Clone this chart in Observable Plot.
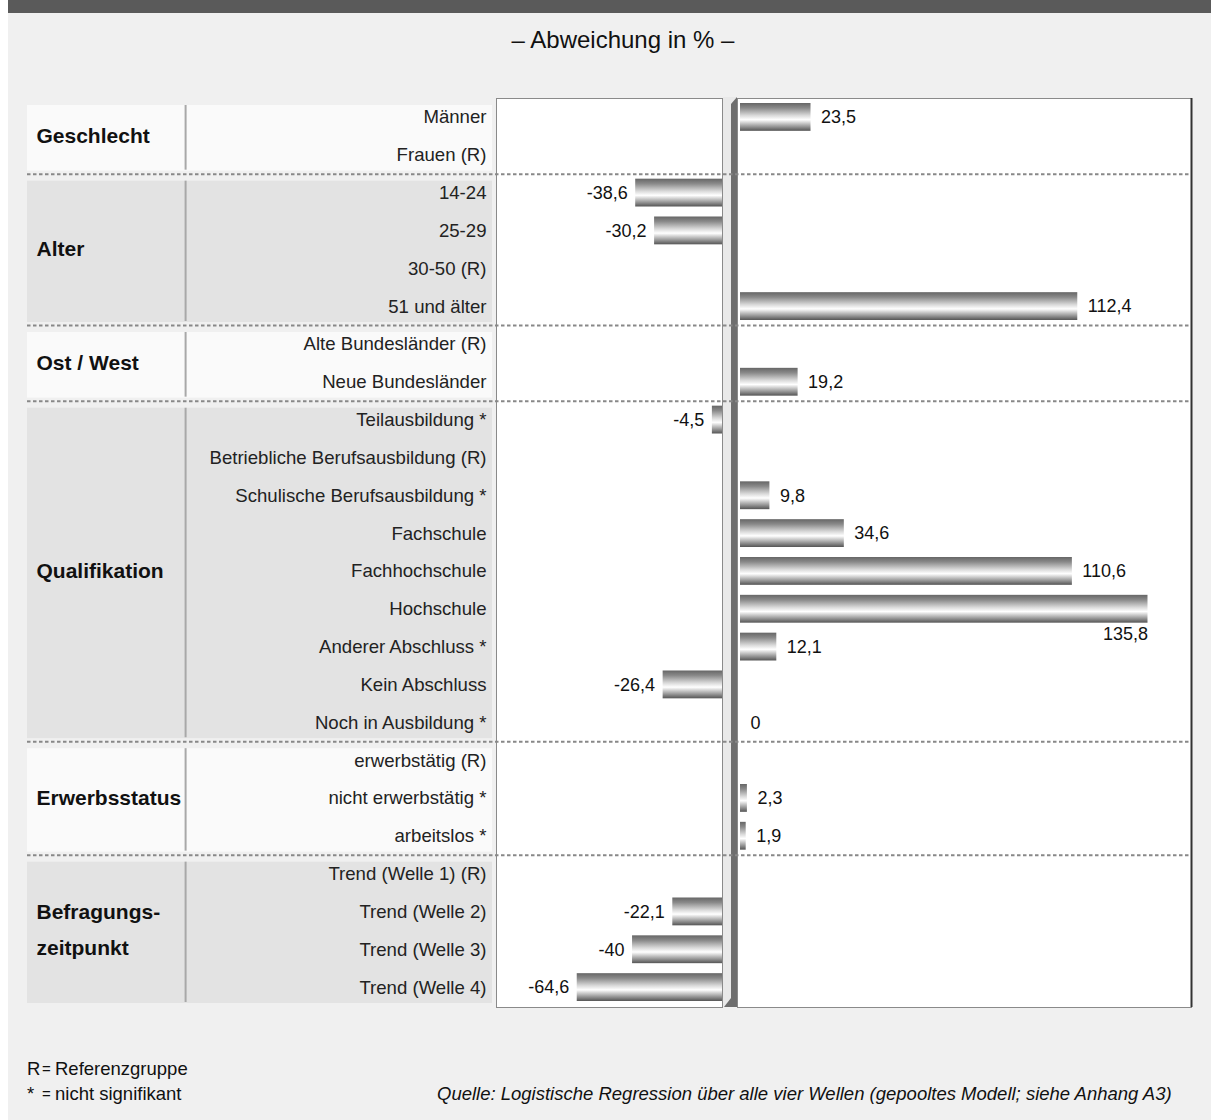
<!DOCTYPE html>
<html>
<head>
<meta charset="utf-8">
<script src="https://cdn.jsdelivr.net/npm/d3@7"></script>
<script src="https://cdn.jsdelivr.net/npm/@observablehq/plot@0.6"></script>
<style>
  html, body { margin: 0; padding: 0; background: #ffffff; }
  #chart { position: relative; width: 1211px; height: 1120px; background: #f0f0f0; overflow: hidden;
           font-family: "Liberation Sans", Arial, sans-serif; color: #111; }
  #leftstrip { position: absolute; left: 0; top: 0; width: 8px; height: 1120px; background: #ffffff; }
  #topbar { position: absolute; left: 8px; top: 0; width: 1203px; height: 13px; background: #5a5a5a; }
  #title { position: absolute; left: 0; width: 1246px; top: 26px; text-align: center; font-size: 24px; }
  .foot { position: absolute; font-size: 18.5px; white-space: nowrap; }
  .layer { position: absolute; left: 0; top: 0; }
</style>
</head>
<body>
<div id="chart">
  <div id="leftstrip"></div>
  <div id="topbar"></div>
  <div id="title"></div>
  <svg width="0" height="0" style="position:absolute">
    <defs>
      <linearGradient id="barGrad" x1="0" y1="0" x2="0" y2="1">
        <stop offset="0" stop-color="#666666"/>
        <stop offset="0.18" stop-color="#8a8a8a"/>
        <stop offset="0.45" stop-color="#dadada"/>
        <stop offset="0.6" stop-color="#ffffff"/>
        <stop offset="0.8" stop-color="#aaaaaa"/>
        <stop offset="1" stop-color="#555555"/>
      </linearGradient>
    </defs>
  </svg>
</div>
<script>
// ---------- data ----------
const categories = [
  "Männer", "Frauen (R)",
  "14-24", "25-29", "30-50 (R)", "51 und älter",
  "Alte Bundesländer (R)", "Neue Bundesländer",
  "Teilausbildung *", "Betriebliche Berufsausbildung (R)", "Schulische Berufsausbildung *",
  "Fachschule", "Fachhochschule", "Hochschule", "Anderer Abschluss *", "Kein Abschluss",
  "Noch in Ausbildung *",
  "erwerbstätig (R)", "nicht erwerbstätig *", "arbeitslos *",
  "Trend (Welle 1) (R)", "Trend (Welle 2)", "Trend (Welle 3)", "Trend (Welle 4)"
];
const values = [
  23.5, null,
  -38.6, -30.2, null, 112.4,
  null, 19.2,
  -4.5, null, 9.8, 34.6, 110.6, 135.8, 12.1, -26.4, 0,
  null, 2.3, 1.9,
  null, -22.1, -40, -64.6
];
const groups = ["Geschlecht", "Alter", "Ost / West", "Qualifikation", "Erwerbsstatus", "Befragungs-\nzeitpunkt"];
const groupSizes = [2, 4, 2, 9, 3, 4];
const titleText = "– Abweichung in % –";
const legendKeys = ["R", "*"];
const legendTexts = ["Referenzgruppe", "nicht signifikant"];
const sourceText = "Quelle: Logistische Regression über alle vier Wellen (gepooltes Modell; siehe Anhang A3)";

// ---------- derived tables ----------
const rows = categories.map((cat, i) => ({i, cat, value: values[i]}));
let acc = 0;
const groupRows = groups.map((label, k) => {
  const start = acc; acc += groupSizes[k];
  return {k, label, start, end: acc};
});
const boundaries = groupRows.slice(0, -1).map(g => g.end);
const fmt = v => String(v).replace(".", ",");
const neg = rows.filter(d => d.value != null && d.value < 0);
const pos = rows.filter(d => d.value != null && d.value >= 0);

// ---------- layout ----------
const W = 1211, H = 1120;
const TOP = 98, BOTTOM = 1006;
const N = categories.length;
const FONT = '"Liberation Sans", Arial, sans-serif';
const base = {
  width: W, height: H,
  marginTop: TOP, marginBottom: H - 1007,
  style: {background: "transparent", fontFamily: FONT, overflow: "visible"},
  y: {domain: [0, N], range: [TOP, BOTTOM], axis: null},
  className: "layer"
};
const chart = document.getElementById("chart");
document.getElementById("title").textContent = titleText;

// table (group column + category column)
const tablePlot = Plot.plot({
  ...base,
  marginLeft: 27, marginRight: W - 492,
  x: {domain: [0, 1], range: [27, 492], axis: null},
  color: {type: "identity"},
  marks: [
    Plot.rect(groupRows, {x1: 0, x2: 1, y1: "start", y2: "end",
      fill: d => d.k % 2 ? "#e3e3e3" : "#fafafa", insetTop: 7, insetBottom: 3}),
    Plot.ruleX(groupRows, {x: 0.34, y1: "start", y2: "end", stroke: "#a8a8a8", strokeWidth: 2,
      insetTop: 7, insetBottom: 4}),
    Plot.text(groupRows, {x: 0, y: d => (d.start + d.end) / 2, text: "label", textAnchor: "start",
      dx: 9, dy: -5, fontSize: 21, fontWeight: "bold", lineHeight: 1.72, fill: "#111"}),
    Plot.text(rows, {x: 1, y: d => d.i + 0.5, text: "cat", textAnchor: "end", dx: -6,
      fontSize: 18.6, fill: "#222"})
  ]
});

// negative panel
const NEG_MIN = -100.5;
const negPlot = Plot.plot({
  ...base,
  marginLeft: 496, marginRight: W - 722,
  x: {domain: [NEG_MIN, 0], range: [496, 722], axis: null},
  marks: [
    Plot.frame({fill: "#ffffff"}),
    Plot.rect(neg, {x1: 0, x2: "value", y1: "i", y2: d => d.i + 1, insetTop: 5, insetBottom: 5,
      fill: "url(#barGrad)"}),
    Plot.text(neg, {x: "value", y: d => d.i + 0.5, text: d => fmt(d.value), textAnchor: "end",
      dx: -8, fontSize: 18, fill: "#111"}),
    Plot.frame({stroke: "#8a8a8a", strokeWidth: 1})
  ]
});

// positive panel
const POS_MAX = 150.3;
const LABEL_BELOW_FROM = 125;
const posPlot = Plot.plot({
  ...base,
  marginLeft: 737, marginRight: W - 1191,
  x: {domain: [0, POS_MAX], range: [740, 1191], axis: null},
  marks: [
    Plot.frame({fill: "#ffffff"}),
    Plot.rect(pos, {x1: 0, x2: "value", y1: "i", y2: d => d.i + 1, insetTop: 5, insetBottom: 5,
      fill: "url(#barGrad)"}),
    Plot.text(pos.filter(d => d.value < LABEL_BELOW_FROM), {x: "value", y: d => d.i + 0.5,
      text: d => fmt(d.value), textAnchor: "start", dx: 10, fontSize: 18, fill: "#111"}),
    Plot.text(pos.filter(d => d.value >= LABEL_BELOW_FROM), {x: "value", y: d => d.i + 0.5,
      text: d => fmt(d.value), textAnchor: "end", dy: 25, fontSize: 18, fill: "#111"}),
    Plot.frame({stroke: "#8a8a8a", strokeWidth: 1}),
    Plot.ruleX([POS_MAX], {stroke: "#333333", strokeWidth: 2})
  ]
});

// separator wall between the two panels (decorative)
const wall = document.createElementNS("http://www.w3.org/2000/svg", "svg");
wall.setAttribute("width", W); wall.setAttribute("height", H);
wall.setAttribute("class", "layer");
wall.innerHTML = `
  <rect x="723" y="97" width="14" height="910" fill="#e9e9e9"/>
  <polygon points="731,104 737,97 737,1007 731,1007" fill="#6e6e6e"/>
  <polygon points="724,1007 731,998 731,1007" fill="#6e6e6e"/>`;

// dashed group separators on top
const dashPlot = Plot.plot({
  ...base,
  marginLeft: 27, marginRight: W - 1191,
  marks: [
    Plot.ruleY(boundaries, {stroke: "#888888", strokeWidth: 2, strokeDasharray: "3.5,2.5"})
  ]
});

chart.appendChild(tablePlot);
chart.appendChild(negPlot);
chart.appendChild(wall);
chart.appendChild(posPlot);
chart.appendChild(dashPlot);
for (const el of [tablePlot, negPlot, posPlot, dashPlot]) {
  el.style.position = "absolute"; el.style.left = "0px"; el.style.top = "0px";
  el.style.maxWidth = "none"; el.style.pointerEvents = "none";
}

// footer
const footY = [1058, 1083];
legendKeys.forEach((k, j) => {
  const a = document.createElement("div"); a.className = "foot";
  a.style.left = "27px"; a.style.top = footY[j] + "px"; a.textContent = k; chart.appendChild(a);
  const b = document.createElement("div"); b.className = "foot";
  b.style.left = "42px"; b.style.top = footY[j] + "px"; b.style.fontSize = "15px";
  b.style.marginTop = "2px"; b.textContent = "="; chart.appendChild(b);
  const c = document.createElement("div"); c.className = "foot";
  c.style.left = "55px"; c.style.top = footY[j] + "px"; c.textContent = legendTexts[j]; chart.appendChild(c);
});
const src = document.createElement("div"); src.className = "foot";
src.style.left = "437px"; src.style.top = footY[1] + "px"; src.style.fontStyle = "italic";
src.textContent = sourceText; chart.appendChild(src);
</script>
</body>
</html>
